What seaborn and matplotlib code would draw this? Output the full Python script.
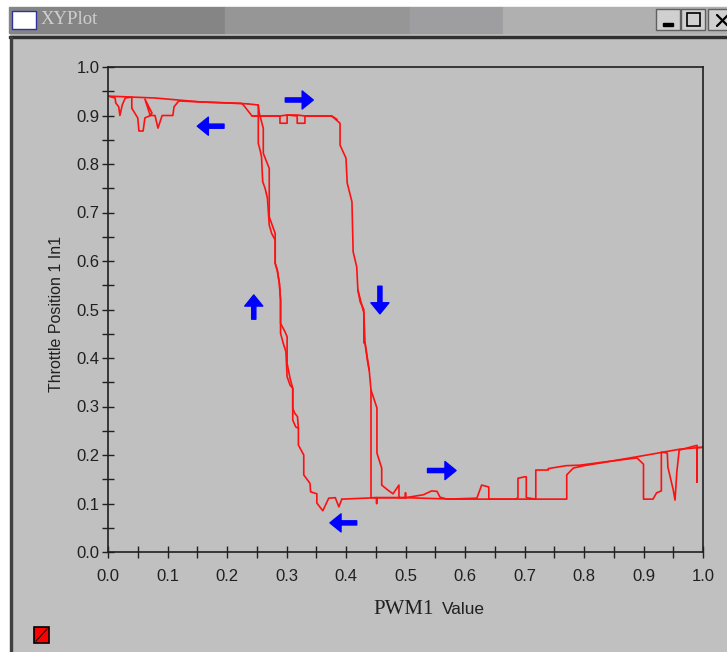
import matplotlib
matplotlib.use('Agg')
import matplotlib.pyplot as plt
from matplotlib.patches import Rectangle
import seaborn as sns

# forward sweep, top plateau then falling edge
down_x = [0.0, 0.08, 0.155, 0.225, 0.23, 0.242, 0.289, 0.289, 0.301, 0.301, 0.318, 0.318, 0.331, 0.331, 0.376,
          0.39, 0.39, 0.40, 0.402, 0.41, 0.412, 0.418, 0.42, 0.43, 0.432, 0.439, 0.442, 0.452, 0.452,
          0.46, 0.46, 0.47, 0.479, 0.489, 0.489, 0.50, 0.50, 0.50]
down_y = [0.94, 0.936, 0.928, 0.925, 0.918, 0.899, 0.899, 0.884, 0.884, 0.901, 0.899, 0.884, 0.884, 0.899, 0.899,
          0.884, 0.839, 0.812, 0.761, 0.722, 0.619, 0.588, 0.54, 0.493, 0.431, 0.375, 0.334, 0.297, 0.204,
          0.173, 0.138, 0.128, 0.12, 0.138, 0.112, 0.112, 0.122, 0.112]

# second pass along the 0.9 plateau, closes the small notches
flat_x = [0.385, 0.376, 0.331, 0.318, 0.301, 0.289, 0.242]
flat_y = [0.892, 0.899, 0.899, 0.901, 0.901, 0.899, 0.899]

# small doubled part of the falling edge
down2_x = [0.42, 0.424, 0.43, 0.43, 0.432, 0.436, 0.439]
down2_y = [0.54, 0.515, 0.50, 0.431, 0.431, 0.395, 0.375]

# low plateau with bumps, out to the right end
low_x = [0.442, 0.442, 0.50, 0.53, 0.544, 0.553, 0.558, 0.57, 0.62, 0.628, 0.64, 0.64, 0.685, 0.689, 0.689,
         0.70, 0.703, 0.703, 0.719, 0.719, 0.74, 0.74, 0.77, 0.793, 0.849, 0.906, 0.961, 1.0]
low_y = [0.334, 0.112, 0.112, 0.118, 0.126, 0.125, 0.113, 0.109, 0.111, 0.138, 0.134, 0.109, 0.109, 0.112, 0.152,
         0.155, 0.155, 0.112, 0.109, 0.169, 0.169, 0.172, 0.178, 0.179, 0.188, 0.20, 0.212, 0.216]

# return along the top of the right part, then back along the low plateau
back_x = [1.0, 0.99, 0.99, 0.99, 0.96, 0.956, 0.953, 0.95, 0.941, 0.94, 0.93, 0.93, 0.922, 0.916, 0.90, 0.90, 0.889,
          0.85, 0.80, 0.782, 0.771, 0.771, 0.72, 0.66, 0.58, 0.50, 0.4515, 0.4515, 0.4515, 0.393]
back_y = [0.216, 0.215, 0.144, 0.22, 0.21, 0.165, 0.107, 0.128, 0.175, 0.204, 0.206, 0.126, 0.122, 0.109, 0.109, 0.181, 0.194,
          0.188, 0.178, 0.173, 0.159, 0.109, 0.109, 0.109, 0.109, 0.112, 0.112, 0.10, 0.112, 0.109]

# rising edge, first pass
up1_x = [0.393, 0.388, 0.382, 0.371, 0.361, 0.351, 0.351, 0.3405, 0.3395, 0.329, 0.329, 0.32, 0.32, 0.3155, 0.3105, 0.3105,
         0.306, 0.301, 0.299, 0.2946, 0.29, 0.29, 0.29, 0.288, 0.2845, 0.281, 0.281, 0.275, 0.271, 0.268, 0.264, 0.26,
         0.258, 0.2555, 0.2526, 0.2526, 0.235]
up1_y = [0.109, 0.093, 0.112, 0.111, 0.085, 0.101, 0.12, 0.124, 0.1415, 0.159, 0.20, 0.2206, 0.255, 0.258, 0.272, 0.3375,
         0.344, 0.3615, 0.413, 0.43, 0.451, 0.4715, 0.52, 0.554, 0.581, 0.595, 0.643, 0.657, 0.674, 0.729, 0.75, 0.7635,
         0.815, 0.829, 0.8426, 0.9216, 0.924]

# rising edge, second pass
up2_x = [0.32, 0.3185, 0.314, 0.3105, 0.3105, 0.306, 0.301, 0.301, 0.2975, 0.29, 0.29, 0.288, 0.2845, 0.281, 0.281,
         0.278, 0.271, 0.271, 0.2655, 0.261, 0.261, 0.2543, 0.2526]
up2_y = [0.255, 0.279, 0.286, 0.296, 0.3375, 0.358, 0.389, 0.444, 0.454, 0.4715, 0.52, 0.554, 0.581, 0.595, 0.657,
         0.667, 0.691, 0.791, 0.808, 0.822, 0.8735, 0.9045, 0.9216]

# spikes on the top plateau, return pass
top_x = [0.235, 0.155, 0.119, 0.111, 0.109, 0.091, 0.084, 0.079, 0.071, 0.062, 0.074, 0.071, 0.062, 0.059, 0.052, 0.05,
         0.04, 0.04, 0.029, 0.024, 0.02, 0.018, 0.013, 0.012, 0.0]
top_y = [0.924, 0.928, 0.93, 0.918, 0.90, 0.90, 0.874, 0.90, 0.90, 0.934, 0.905, 0.90, 0.895, 0.868, 0.868, 0.895,
         0.915, 0.938, 0.936, 0.922, 0.90, 0.918, 0.926, 0.936, 0.94]

# arrows: tail and head
arrow_tail_x = [0.298, 0.195, 0.245, 0.457, 0.537, 0.418]
arrow_tail_y = [0.932, 0.878, 0.48, 0.548, 0.168, 0.06]
arrow_head_x = [0.345, 0.15, 0.245, 0.457, 0.585, 0.373]
arrow_head_y = [0.932, 0.878, 0.53, 0.491, 0.168, 0.06]

ticks = [0.0, 0.1, 0.2, 0.3, 0.4, 0.5, 0.6, 0.7, 0.8, 0.9, 1.0]
minor_ticks = [0.05, 0.15, 0.25, 0.35, 0.45, 0.55, 0.65, 0.75, 0.85, 0.95]
traces = [(down_x, down_y), (flat_x, flat_y), (down2_x, down2_y), (low_x, low_y), (back_x, back_y),
          (up1_x, up1_y), (up2_x, up2_y), (top_x, top_y)]

sns.set_theme(style='ticks')
plt.rcParams['font.family'] = ['Liberation Sans', 'DejaVu Sans']

fig = plt.figure(figsize=(7.27, 6.52), dpi=100, facecolor='#c0c0c0')

# window chrome, drawn in pixel coordinates
bg = fig.add_axes([0, 0, 1, 1], zorder=0)
bg.set_xlim(0, 727)
bg.set_ylim(652, 0)
bg.axis('off')
bg.add_patch(Rectangle((0, 0), 727, 7, color='white'))
bg.add_patch(Rectangle((0, 7), 9, 645, color='white'))
bg.add_patch(Rectangle((9, 7), 216, 26, color='#858585'))
bg.add_patch(Rectangle((225, 7), 185, 26, color='#969696'))
bg.add_patch(Rectangle((410, 7), 93, 26, color='#9e9ea0'))
bg.add_patch(Rectangle((503, 7), 224, 26, color='#b0b0b0'))
bg.add_patch(Rectangle((9, 36), 718, 2, color='#303030'))
bg.add_patch(Rectangle((10, 37), 2, 615, color='#404040'))
bg.add_patch(Rectangle((12, 11), 24, 18, facecolor='white', edgecolor='#3030a0', lw=1))
bg.text(41, 20, 'XYPlot', family='Liberation Serif', fontsize=13.5, color='#cfcfcf', va='center', ha='left')
for bx in [656, 681, 708]:
    bg.add_patch(Rectangle((bx, 9), 24, 21, facecolor='#d0d0d0', edgecolor='#606060', lw=1))
bg.add_patch(Rectangle((663, 23), 10, 3, color='black'))
bg.add_patch(Rectangle((687, 13), 13, 13, fill=False, edgecolor='black', lw=1.2))
bg.plot([717, 728], [15, 26], color='black', lw=1.6)
bg.plot([717, 728], [26, 15], color='black', lw=1.6)
bg.add_patch(Rectangle((34, 627), 15, 16, facecolor='#ff0000', edgecolor='black', lw=1.2))
bg.plot([36, 47], [641, 629], color='black', lw=0.8)

ax = fig.add_axes([108 / 727, 100 / 652, 595 / 727, 485 / 652], zorder=1)
ax.set_facecolor('#c0c0c0')

for tx, ty in traces:
    sns.lineplot(x=tx, y=ty, sort=False, estimator=None, color='#ff1010', linewidth=1.2, ax=ax)

for x0, y0, x1, y1 in zip(arrow_tail_x, arrow_tail_y, arrow_head_x, arrow_head_y):
    ax.annotate('', xy=(x1, y1), xytext=(x0, y0),
                arrowprops=dict(facecolor='#0000ff', edgecolor='#0000ff', width=3, headwidth=13, headlength=8, shrink=0))

ax.set_xlim(0, 1)
ax.set_ylim(0, 1)
ax.set_xticks(ticks)
ax.set_yticks(ticks)
ax.set_xticks(minor_ticks, minor=True)
ax.set_yticks(minor_ticks, minor=True)
ax.set_xticklabels([f'{t:.1f}' for t in ticks])
ax.set_yticklabels([f'{t:.1f}' for t in ticks])
ax.tick_params(which='both', direction='inout', length=8, width=1, color='#202020', labelcolor='#202020', labelsize=12, pad=2)
ax.tick_params(axis='x', pad=8)
for side in ax.spines:
    ax.spines[side].set_color('#202020')
    ax.spines[side].set_linewidth(1.2)

# the x label mixes a serif and a sans part in the original
ax.set_xlabel('PWM1', family='Liberation Serif', fontsize=15, color='#202020', ha='center', va='baseline')
ax.xaxis.set_label_coords((404 - 108) / 595, (552 - 614) / 485)
ax.text((442 - 108) / 595, (552 - 614) / 485, 'Value', transform=ax.transAxes, fontsize=12.4, color='#202020',
        ha='left', va='baseline')
ax.set_ylabel('Throttle Position 1 In1', fontsize=11.5, color='#202020', va='center')
ax.yaxis.set_label_coords((57 - 108) / 595, (552 - 314.5) / 485)

fig.savefig('out.png', dpi=100, facecolor=fig.get_facecolor())
